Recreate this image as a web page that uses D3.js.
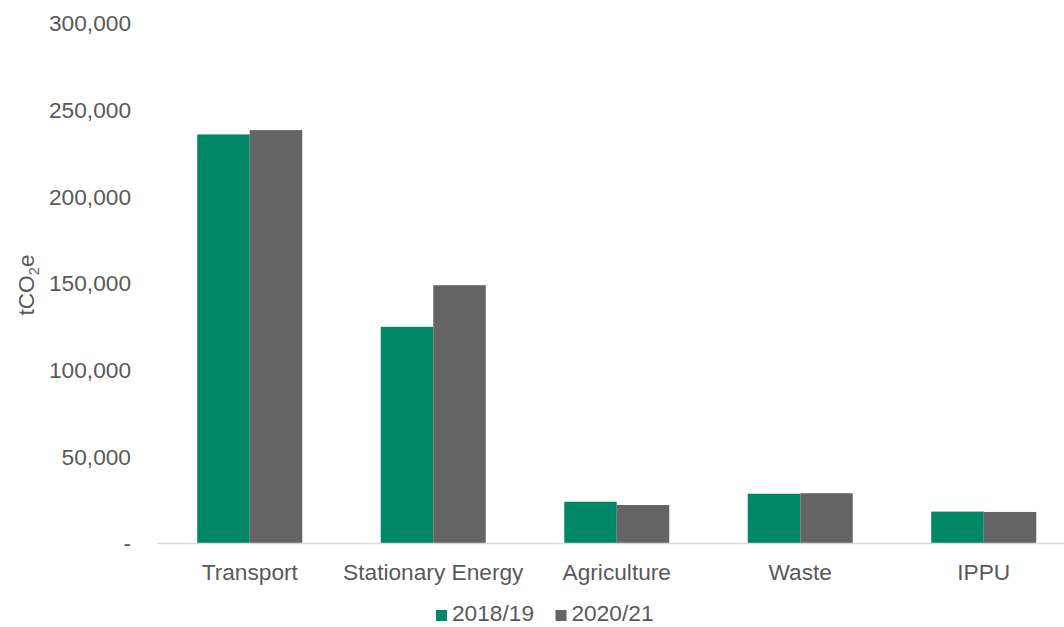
<!DOCTYPE html>
<html>
<head>
<meta charset="utf-8">
<script src="https://cdn.jsdelivr.net/npm/d3@7"></script>
<style>
  html, body { margin: 0; padding: 0; background: #fff; }
  svg { display: block; }
  text { font-family: "Liberation Sans", Arial, sans-serif; fill: #595959; }
</style>
</head>
<body>
<svg id="chart" width="1064" height="627"></svg>
<script>
// Emissions by sector (tCO2e)
const categories = ["Transport", "Stationary Energy", "Agriculture", "Waste", "IPPU"];
const seriesNames = ["2018/19", "2020/21"];
const values2018 = [236000, 125000, 24100, 28700, 18400];
const values2020 = [238500, 149000, 22200, 29000, 18200];
const yTicks = [0, 50000, 100000, 150000, 200000, 250000, 300000];
const colors = ["#008766", "#646464"];

const seriesValues = [values2018, values2020];
const rows = categories.map((c, i) => ({
  category: c,
  values: seriesNames.map((s, j) => ({ series: s, value: seriesValues[j][i], idx: j }))
}));

const svg = d3.select("#chart");
const fontSize = 22.7;

const x0 = d3.scaleBand().domain(categories).range([158, 1075.5]).paddingInner(0).paddingOuter(0);
const groupGap = (x0.bandwidth() - 105) / 2;
const x1 = d3.scaleBand().domain(seriesNames).range([groupGap, x0.bandwidth() - groupGap]).padding(0);
const y = d3.scaleLinear().domain([0, 300000]).range([543.5, 23.5]);

// Bars
const groups = svg.append("g").selectAll("g")
  .data(rows).join("g")
  .attr("transform", d => `translate(${x0(d.category)},0)`);

groups.selectAll("rect")
  .data(d => d.values).join("rect")
  .attr("x", d => x1(d.series))
  .attr("y", d => y(d.value))
  .attr("width", x1.bandwidth())
  .attr("height", d => y(0) - y(d.value))
  .attr("fill", d => colors[d.idx]);

// Category axis
const xAxis = svg.append("g")
  .attr("transform", `translate(0,${y(0)})`)
  .call(d3.axisBottom(x0).tickSize(0).tickPadding(20));
xAxis.select(".domain").attr("stroke", "#d9d9d9").attr("stroke-width", 1.5)
  .attr("d", `M158,0H1064`);
xAxis.selectAll("text")
  .style("font-size", fontSize + "px")
  .attr("fill", "#595959")
  .style("font-family", "'Liberation Sans', Arial, sans-serif");

// Value axis (labels only)
const fmt = d => d === 0 ? "-" : d3.format(",")(d);
const yAxis = svg.append("g")
  .attr("transform", "translate(131,0)")
  .call(d3.axisLeft(y).tickValues(yTicks).tickFormat(fmt).tickSize(0).tickPadding(0));
yAxis.select(".domain").remove();
yAxis.selectAll("text")
  .style("font-size", fontSize + "px")
  .attr("fill", "#595959")
  .style("font-family", "'Liberation Sans', Arial, sans-serif");

// Axis title with subscript
const title = svg.append("text")
  .attr("transform", "translate(34,285) rotate(-90)")
  .attr("text-anchor", "middle")
  .style("font-size", fontSize + "px");
title.append("tspan").text("tCO");
title.append("tspan").text("2").style("font-size", (fontSize * 0.65) + "px").attr("dy", 5);
title.append("tspan").text("e").attr("dy", -5);

// Legend
const legendItems = [
  { name: seriesNames[0], color: colors[0], x: 436 },
  { name: seriesNames[1], color: colors[1], x: 555.5 }
];
const legend = svg.append("g").selectAll("g")
  .data(legendItems).join("g")
  .attr("transform", d => `translate(${d.x},0)`);
legend.append("rect")
  .attr("x", 0).attr("y", 610).attr("width", 11).attr("height", 11)
  .attr("fill", d => d.color);
legend.append("text")
  .attr("x", 16).attr("y", 621)
  .style("font-size", fontSize + "px")
  .text(d => d.name);
</script>
</body>
</html>
